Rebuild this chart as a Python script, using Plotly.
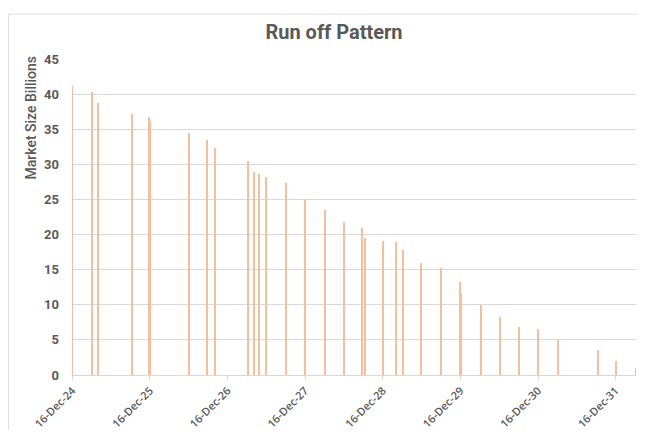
import plotly.graph_objects as go
import pandas as pd

dates = ["2024-12-16", "2025-03-20", "2025-04-16", "2025-09-21", "2025-12-13", "2025-12-16",
         "2026-06-18", "2026-09-09", "2026-10-20", "2027-03-22", "2027-04-18", "2027-05-15",
         "2027-06-14", "2027-09-19", "2027-12-16", "2028-03-20", "2028-06-17", "2028-09-09",
         "2028-09-23", "2028-12-16", "2029-02-17", "2029-03-22", "2029-06-15", "2029-09-14",
         "2029-12-16", "2029-12-19", "2030-03-21", "2030-06-18", "2030-09-19", "2030-12-14",
         "2031-03-21", "2031-09-24", "2031-12-17", "2032-03-19"]
market_size = [41.2, 40.3, 38.8, 37.2, 36.8, 36.2,
               34.4, 33.5, 32.3, 30.5, 28.9, 28.6,
               28.2, 27.4, 25.05, 23.5, 21.8, 21.0,
               19.5, 19.1, 19.0, 17.8, 16.0, 15.2,
               13.2, 11.5, 10.0, 8.2, 6.9, 6.55,
               4.95, 3.5, 1.95, 0.95]
tick_dates = ["2024-12-16", "2025-12-16", "2026-12-16", "2027-12-16",
              "2028-12-16", "2029-12-16", "2030-12-16", "2031-12-16"]
tick_labels = ["16-Dec-24", "16-Dec-25", "16-Dec-26", "16-Dec-27",
               "16-Dec-28", "16-Dec-29", "16-Dec-30", "16-Dec-31"]
y_ticks = [0, 5, 10, 15, 20, 25, 30, 35, 40, 45]

day_ms = 86400000
fig = go.Figure()
fig.add_trace(go.Bar(
    x=pd.to_datetime(dates), y=market_size,
    width=[4.5 * day_ms] * len(dates),
    marker=dict(color="#F5BE9C", line=dict(width=0)),
    hoverinfo="x+y",
))

gray = "#595959"
W, H = 630, 422
L, R, T, B = 64, 2, 51, 55
pw, ph = W - L - R, H - T - B
fig.update_layout(
    width=W, height=H,
    margin=dict(l=L, r=R, t=T, b=B, autoexpand=False),
    paper_bgcolor="white", plot_bgcolor="white",
    showlegend=False,
    font=dict(family="Roboto", color=gray),
    title=dict(text="<b>Run off Pattern</b>", x=326 / W, xanchor="center",
               y=1 - 23.5 / H, yanchor="middle",
               font=dict(size=20, color=gray, family="Roboto")),
    bargap=0,
)
fig.update_xaxes(
    type="date", automargin=False,
    range=["2024-12-14", "2032-03-21"],
    tickvals=pd.to_datetime(tick_dates), ticktext=tick_labels,
    tickangle=-45, tickfont=dict(size=11, color=gray, family="Open Sans", weight=600),
    showgrid=False, showline=True, linecolor="#D9D9D9", linewidth=1,
    ticks="outside", ticklen=4, tickcolor="#D9D9D9",
)
fig.update_yaxes(
    automargin=False,
    range=[0, 45],
    tickvals=y_ticks, ticktext=["<b>%d</b>" % v for v in y_ticks],
    tickfont=dict(size=13, color=gray),
    showgrid=True, gridcolor="#D9D9D9", gridwidth=1, zeroline=False,
    showline=False, ticks="", ticklabelstandoff=12,
)
fig.add_annotation(
    text="Market Size Billions", textangle=-90, showarrow=False,
    xref="paper", yref="paper", x=(22 - L) / pw, y=1 - (109.5 - T) / ph,
    xanchor="center", yanchor="middle",
    font=dict(size=14, color=gray, family="Roboto", weight=500),
)
fig.add_shape(type="rect", xref="paper", yref="paper",
              x0=-(L - 0.5) / pw, x1=1 + 20 / pw, y0=-0.5, y1=1 + (T - 6) / ph,
              line=dict(color="#E0E0E0", width=1), layer="below")
fig.write_html("out.html")
